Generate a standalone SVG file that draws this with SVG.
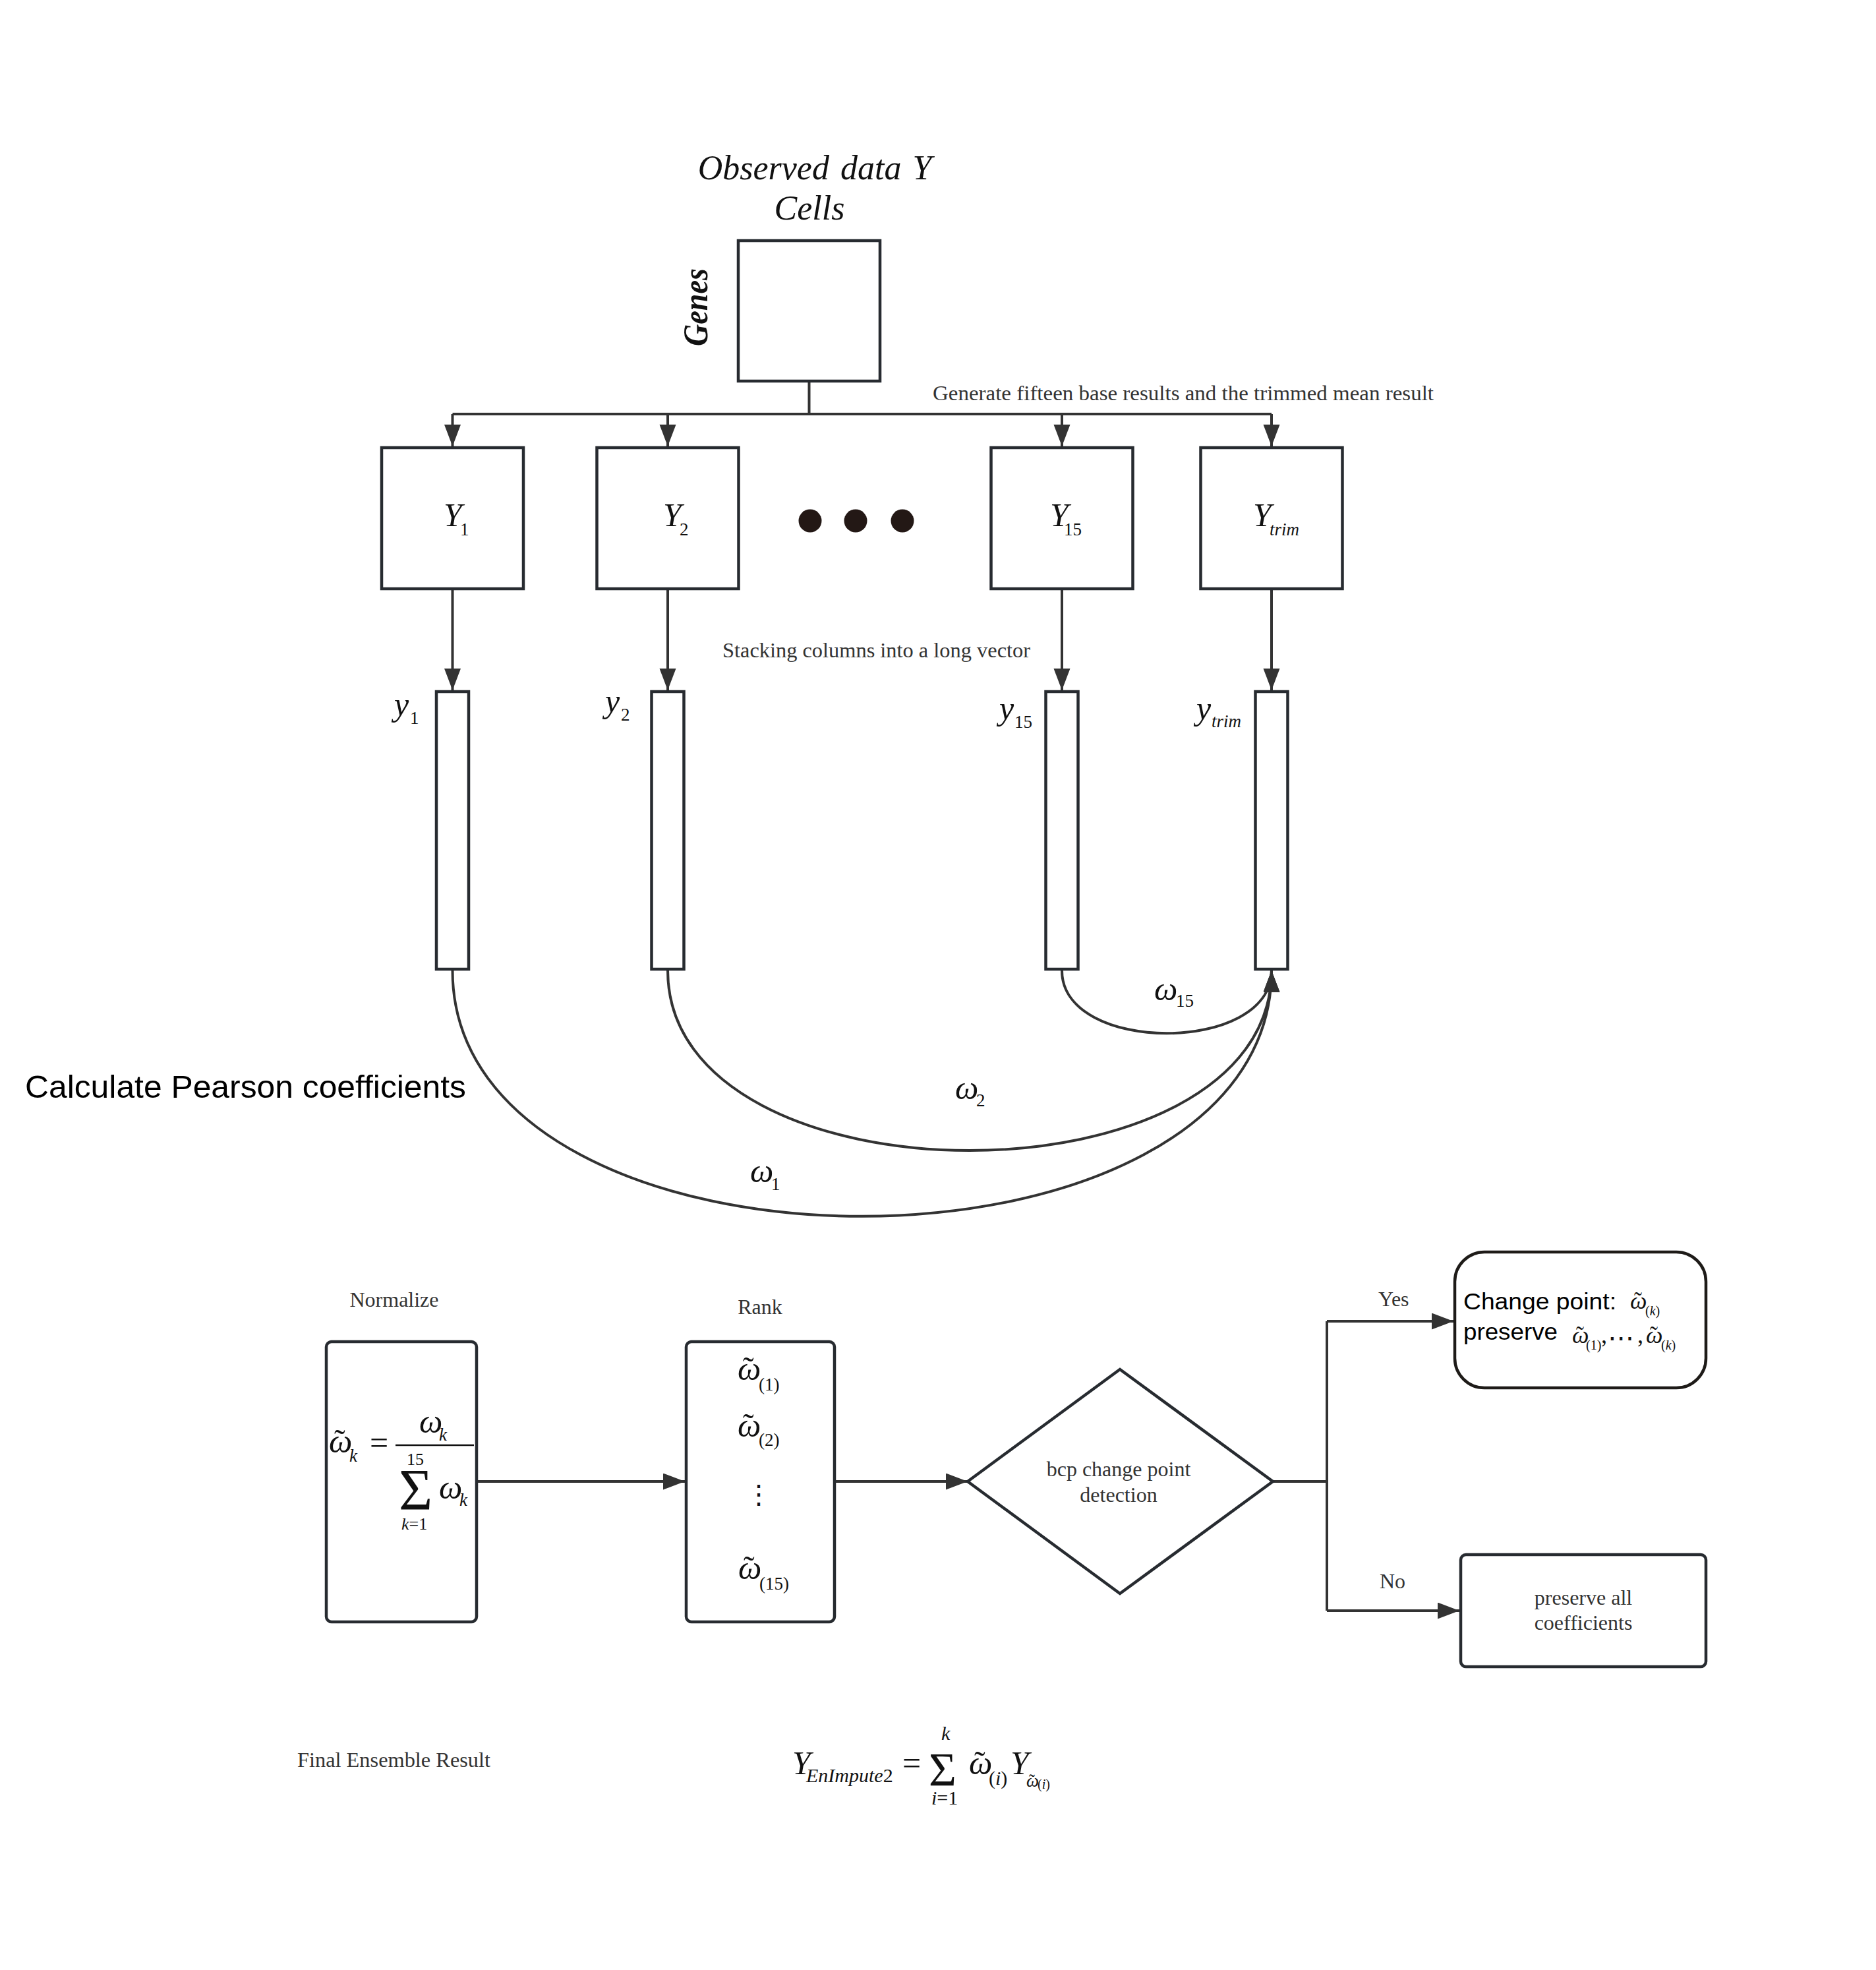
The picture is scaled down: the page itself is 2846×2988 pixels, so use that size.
<svg xmlns="http://www.w3.org/2000/svg" width="2846" height="2988" viewBox="0 0 2846 2988">
<style>
text{font-family:"Liberation Serif","Times New Roman",serif;fill:#111}
.it{font-style:italic}
.up{font-style:normal}
.sans{font-family:"Liberation Sans",Arial,sans-serif;fill:#000}
.box{fill:#fff;stroke:#272b30;stroke-width:4.5}
.conn{fill:none;stroke:#333;stroke-width:4}
.lbl{font-size:32px;fill:#333}
.big{font-size:50px}
.sub{font-size:27px}
.dot{fill:#231815}
</style>
<defs>
<marker id="ah" markerUnits="userSpaceOnUse" markerWidth="34" markerHeight="26" refX="33" refY="12.5" orient="auto">
<path d="M0,0 L33,12.5 L0,25 Z" fill="#333"/>
</marker>
</defs>
<rect width="2846" height="2988" fill="#fff"/>

<g id="connectors">
<path class="conn" d="M1227.5 580 V628 M686.5 628 H1929"/>
<path class="conn" marker-end="url(#ah)" d="M686.5 628 V677"/>
<path class="conn" marker-end="url(#ah)" d="M1013 628 V677"/>
<path class="conn" marker-end="url(#ah)" d="M1611 628 V677"/>
<path class="conn" marker-end="url(#ah)" d="M1929 628 V677"/>
<path class="conn" marker-end="url(#ah)" d="M686.5 895 V1047"/>
<path class="conn" marker-end="url(#ah)" d="M1013 895 V1047"/>
<path class="conn" marker-end="url(#ah)" d="M1611 895 V1047"/>
<path class="conn" marker-end="url(#ah)" d="M1929 895 V1047"/>
<path class="conn" marker-end="url(#ah)" d="M686.5 1472 C686.5 1969 1929 1969 1929 1472"/>
<path class="conn" marker-end="url(#ah)" d="M1013 1472 C1013 1836 1929 1836 1929 1472"/>
<path class="conn" marker-end="url(#ah)" d="M1611 1472 C1611 1599 1929 1599 1929 1472"/>
<path class="conn" marker-end="url(#ah)" d="M725 2247 H1039"/>
<path class="conn" marker-end="url(#ah)" d="M1268 2247 H1468"/>
<path class="conn" d="M1931 2247 H2013 M2013 2004 V2443"/>
<path class="conn" marker-end="url(#ah)" d="M2013 2004 H2205"/>
<path class="conn" marker-end="url(#ah)" d="M2013 2443 H2214"/>
</g>

<g id="observed">
<text class="it" x="1236" y="272" text-anchor="middle" font-size="52" word-spacing="4">Observed data Y</text>
<text class="it" x="1228" y="333" text-anchor="middle" font-size="52">Cells</text>
<text class="it" font-weight="bold" font-size="52" transform="translate(1073,525) rotate(-90)" textLength="118" lengthAdjust="spacingAndGlyphs">Genes</text>
<rect class="box" x="1120" y="365" width="215" height="213"/>
</g>

<g id="label-generate"><text class="lbl" x="1415" y="607" textLength="760" lengthAdjust="spacingAndGlyphs">Generate  fifteen base results and the trimmed mean result</text></g>

<g id="Y1"><rect class="box" x="579" y="679" width="215" height="214"/>
<text x="673" y="798"><tspan class="it big">Y</tspan><tspan class="sub" x="698" y="812">1</tspan></text></g>
<g id="Y2"><rect class="box" x="905.5" y="679" width="215" height="214"/>
<text x="1006" y="798"><tspan class="it big">Y</tspan><tspan class="sub" x="1031" y="812">2</tspan></text></g>
<g id="ellipsis"><circle class="dot" cx="1229" cy="790" r="17.5"/><circle class="dot" cx="1298" cy="790" r="17.5"/><circle class="dot" cx="1369" cy="790" r="17.5"/></g>
<g id="Y15"><rect class="box" x="1503.5" y="679" width="215" height="214"/>
<text x="1593" y="798"><tspan class="it big">Y</tspan><tspan class="sub" x="1614" y="812">15</tspan></text></g>
<g id="Ytrim"><rect class="box" x="1821.5" y="679" width="215" height="214"/>
<text x="1901" y="798"><tspan class="it big">Y</tspan><tspan class="it sub" x="1926" y="812">trim</tspan></text></g>

<g id="label-stacking"><text class="lbl" x="1096" y="997" textLength="467" lengthAdjust="spacingAndGlyphs">Stacking columns into a long vector</text></g>

<g id="y1"><rect class="box" x="662" y="1049" width="49" height="421"/>
<text x="598" y="1085"><tspan class="it big">y</tspan><tspan class="sub" x="622" y="1098">1</tspan></text></g>
<g id="y2"><rect class="box" x="988.5" y="1049" width="49" height="421"/>
<text x="918" y="1080"><tspan class="it big">y</tspan><tspan class="sub" x="942" y="1093">2</tspan></text></g>
<g id="y15"><rect class="box" x="1586.5" y="1049" width="49" height="421"/>
<text x="1516" y="1091"><tspan class="it big">y</tspan><tspan class="sub" x="1539" y="1104">15</tspan></text></g>
<g id="ytrim"><rect class="box" x="1904.5" y="1049" width="49" height="421"/>
<text x="1815" y="1091"><tspan class="it big">y</tspan><tspan class="it sub" x="1838" y="1103">trim</tspan></text></g>

<g id="omega-labels">
<text x="1751" y="1517"><tspan class="it big">ω</tspan><tspan class="sub" x="1784" y="1527">15</tspan></text>
<text x="1449" y="1667"><tspan class="it big">ω</tspan><tspan class="sub" x="1481" y="1678">2</tspan></text>
<text x="1138" y="1793"><tspan class="it big">ω</tspan><tspan class="sub" x="1170" y="1805">1</tspan></text>
</g>

<g id="label-pearson"><text class="sans" x="38" y="1665" font-size="49" textLength="669" lengthAdjust="spacingAndGlyphs">Calculate Pearson coefficients</text></g>

<g id="normalize">
<text class="lbl" x="598" y="1982" text-anchor="middle">Normalize</text>
<rect class="box" x="495" y="2035" width="228" height="425" rx="8"/>
<line x1="600" y1="2192" x2="719" y2="2192" stroke="#111" stroke-width="2.5"/>
<text x="499" y="2203"><tspan class="it big">ω</tspan><tspan class="big" x="507" y="2203">˜</tspan><tspan class="it sub" x="530" y="2217">k</tspan><tspan class="big" x="561" y="2205">=</tspan><tspan class="it big" x="636" y="2173">ω</tspan><tspan class="it sub" x="666" y="2185">k</tspan><tspan font-size="26" x="617" y="2222">15</tspan></text>
<text x="605" y="2289"><tspan font-size="88">Σ</tspan><tspan class="it big" x="666" y="2273">ω</tspan><tspan class="it sub" x="697" y="2284">k</tspan><tspan font-size="26" x="609" y="2320"><tspan class="it">k</tspan>=1</tspan></text>
</g>

<g id="rank">
<text class="lbl" x="1153" y="1993" text-anchor="middle">Rank</text>
<rect class="box" x="1041" y="2035" width="225" height="425" rx="8"/>
<text x="1119" y="2093"><tspan class="it big">ω</tspan><tspan class="big" x="1127" y="2093">˜</tspan><tspan class="sub" x="1151" y="2109">(1)</tspan></text>
<text x="1119" y="2179"><tspan class="it big">ω</tspan><tspan class="big" x="1127" y="2179">˜</tspan><tspan class="sub" x="1151" y="2193">(2)</tspan></text>
<text font-family="DejaVu Serif" font-size="40" x="1151" y="2280" text-anchor="middle">⋮</text>
<text x="1120" y="2395"><tspan class="it big">ω</tspan><tspan class="big" x="1128" y="2395">˜</tspan><tspan class="sub" x="1152" y="2411">(15)</tspan></text>
</g>

<g id="bcp">
<polygon points="1468,2247 1699,2077 1931,2247 1699,2417" fill="#fff" stroke="#272b30" stroke-width="4.5"/>
<text class="lbl" x="1697" y="2239" text-anchor="middle">bcp change point</text>
<text class="lbl" x="1697" y="2278" text-anchor="middle">detection</text>
</g>

<g id="label-yes"><text class="lbl" x="2091" y="1981">Yes</text></g>
<g id="label-no"><text class="lbl" x="2093" y="2409">No</text></g>

<g id="change-point">
<rect x="2207" y="1899" width="381" height="206" rx="45" fill="#fff" stroke="#1e1b18" stroke-width="4.5"/>
<text class="sans" x="2220" y="1986" font-size="35" textLength="232" lengthAdjust="spacingAndGlyphs">Change point:</text>
<text x="2473" y="1985" font-size="36"><tspan class="it">ω</tspan><tspan x="2479" y="1985">˜</tspan><tspan font-size="20" x="2496" y="1995">(<tspan class="it">k</tspan>)</tspan></text>
<text class="sans" x="2220" y="2032" font-size="35" textLength="143" lengthAdjust="spacingAndGlyphs">preserve</text>
<text x="2385" y="2037" font-size="36"><tspan class="it">ω</tspan><tspan x="2391" y="2037">˜</tspan><tspan font-size="20" x="2406" y="2047">(1)</tspan><tspan x="2429" y="2037">,</tspan><tspan font-family="DejaVu Sans" font-size="40" x="2439" y="2043">⋯</tspan><tspan x="2484" y="2037">,</tspan><tspan class="it" x="2497" y="2037">ω</tspan><tspan x="2503" y="2037">˜</tspan><tspan font-size="20" x="2520" y="2047">(<tspan class="it">k</tspan>)</tspan></text>
</g>

<g id="preserve-all">
<rect class="box" x="2216" y="2358" width="372" height="170" rx="8"/>
<text class="lbl" x="2402" y="2434" text-anchor="middle">preserve all</text>
<text class="lbl" x="2402" y="2472" text-anchor="middle">coefficients</text>
</g>

<g id="final">
<text class="lbl" x="451" y="2680" textLength="293" lengthAdjust="spacingAndGlyphs">Final Ensemble Result</text>
<text x="1202" y="2691"><tspan class="it big">Y</tspan><tspan class="it" font-size="30" x="1223" y="2703">EnImpute<tspan class="up">2</tspan></tspan><tspan class="big" x="1369" y="2691">=</tspan><tspan font-size="72" x="1409" y="2708">Σ</tspan><tspan class="it" font-size="30" x="1428" y="2639">k</tspan><tspan font-size="30" x="1413" y="2737"><tspan class="it">i</tspan>=1</tspan><tspan class="it big" x="1470" y="2691">ω</tspan><tspan class="big" x="1478" y="2691">˜</tspan><tspan font-size="30" x="1500" y="2707">(<tspan class="it">i</tspan>)</tspan><tspan class="it big" x="1533" y="2691">Y</tspan><tspan class="it" font-size="27" x="1557" y="2710">ω</tspan><tspan font-size="27" x="1561" y="2710">˜</tspan><tspan font-size="20" x="1574" y="2713">(<tspan class="it">i</tspan>)</tspan></text>
</g>
</svg>
